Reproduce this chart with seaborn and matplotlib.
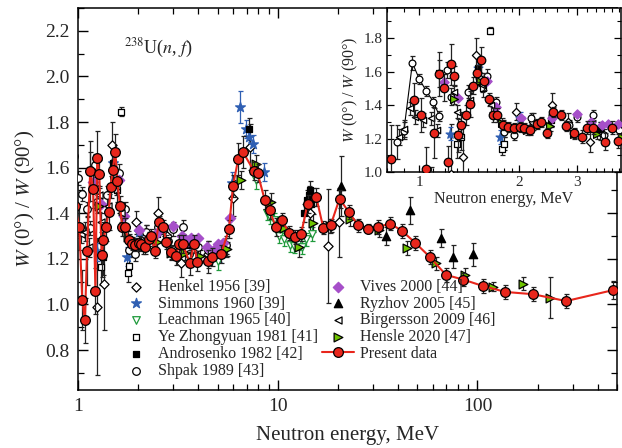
import numpy as np
import matplotlib
matplotlib.use("Agg")
import matplotlib.pyplot as plt
import seaborn as sns
from matplotlib.ticker import MultipleLocator, FixedLocator, FormatStrFormatter, LogLocator, NullFormatter

# ---------------- data ----------------
present_E = [0.822, 0.966, 1.016, 1.05, 1.083, 1.11, 1.151, 1.19, 1.223, 1.248, 1.277, 1.313, 1.341, 1.382,
             1.425, 1.457, 1.492, 1.537, 1.572, 1.621, 1.667, 1.714, 1.794, 1.858, 1.925, 2.016, 2.07, 2.16,
             2.26, 2.33, 2.42, 2.54, 2.67, 2.77, 2.92, 3.09, 3.21, 3.35, 3.63, 3.81, 3.96, 4.5, 4.71, 5.2,
             5.7, 5.97, 6.35, 6.7, 7.61, 7.93, 8.6, 9.1, 9.8, 10.5, 11.4, 12.2, 13.1, 14.1, 15.6, 16.9, 18.4,
             20.4, 22.7, 25.3, 28.4, 31.8, 36.6, 42.0, 48.9, 57.8, 69.5, 85.0, 106.6, 138.0, 190.0, 278.0, 478.0]
present_W = [1.08, 1.43, 1.34, 1.02, 0.93, 1.235, 1.585, 1.505, 1.058, 1.643, 1.573, 1.219, 1.281, 1.34,
             1.406, 1.515, 1.589, 1.669, 1.543, 1.434, 1.34, 1.34, 1.281, 1.267, 1.263, 1.27, 1.265, 1.25,
             1.287, 1.30, 1.235, 1.36, 1.34, 1.275, 1.231, 1.211, 1.265, 1.265, 1.181, 1.265, 1.185, 1.19, 1.208, 1.22,
             1.33, 1.52, 1.64, 1.668, 1.585, 1.576, 1.46, 1.413, 1.34, 1.372, 1.313, 1.296, 1.31, 1.44, 1.471, 1.337, 1.347,
             1.464, 1.405, 1.347, 1.332, 1.34, 1.355, 1.322, 1.27, 1.208, 1.13, 1.109, 1.081, 1.055, 1.045, 1.015, 1.063]
present_err = [0.2, 0.1, 0.1, 0.13, 0.1, 0.15, 0.13, 0.08, 0.1, 0.12, 0.06, 0.1, 0.08, 0.06,
               0.08, 0.05, 0.05, 0.08, 0.05, 0.04, 0.04, 0.04, 0.03, 0.03, 0.03, 0.03, 0.03, 0.03,
               0.03, 0.03, 0.03, 0.03, 0.03, 0.03, 0.03, 0.04, 0.04, 0.04, 0.05, 0.04, 0.04, 0.05, 0.04, 0.04,
               0.04, 0.05, 0.07, 0.07, 0.04, 0.04, 0.04, 0.04, 0.04, 0.03, 0.03, 0.03, 0.03, 0.04, 0.04, 0.03, 0.03,
               0.04, 0.03, 0.03, 0.02, 0.03, 0.03, 0.03, 0.03, 0.03, 0.03, 0.03, 0.03, 0.03, 0.03, 0.03, 0.04]

henkel_E = [1.25, 1.354, 1.485, 1.96, 2.2, 2.52, 2.8, 3.27, 3.5, 4.5, 5.97, 7.24, 14.5, 17.8, 20.2]
henkel_W = [0.99, 1.09, 1.70, 1.36, 1.30, 1.40, 1.30, 1.18, 1.24, 1.22, 1.468, 1.69, 1.40, 1.255, 1.36]
henkel_err = [0.3, 0.2, 0.1, 0.05, 0.05, 0.07, 0.05, 0.06, 0.05, 0.06, 0.08, 0.1, 0.1, 0.25, 0.15]

simmons_E = [1.24, 1.5, 1.75, 2.02, 3.51, 5.1, 5.93, 6.45, 6.96, 7.17, 7.5, 8.5]
simmons_W = [1.23, 1.62, 1.21, 1.32, 1.26, 1.225, 1.532, 1.868, 1.77, 1.733, 1.704, 1.58]
simmons_err = [0.04, 0.05, 0.04, 0.04, 0.04, 0.04, 0.05, 0.07, 0.04, 0.04, 0.04, 0.04]

leach_E = [5.0, 7.8, 8.8, 9.2, 9.6, 10.2, 10.8, 11.5, 12.0, 12.6, 13.2, 13.8, 14.8]
leach_W = [1.19, 1.545, 1.40, 1.383, 1.37, 1.30, 1.285, 1.26, 1.255, 1.27, 1.25, 1.285, 1.31]
leach_err = [0.04, 0.04, 0.03, 0.03, 0.03, 0.03, 0.03, 0.03, 0.03, 0.03, 0.03, 0.03, 0.03]

ye_E = [1.147, 1.30, 1.34, 1.56, 1.64, 1.78, 1.80]
ye_W = [1.59, 1.165, 1.21, 1.50, 1.845, 1.14, 1.17]
ye_err = [0.08, 0.08, 0.08, 0.05, 0.02, 0.04, 0.04]

andro_E = [1.5, 2.5, 3.5, 5.5, 7.2, 13.6, 14.0, 14.3, 14.5, 14.7, 15.0]
andro_W = [1.62, 1.31, 1.26, 1.25, 1.77, 1.40, 1.46, 1.48, 1.50, 1.44, 1.47]
andro_err = [0.05, 0.04, 0.04, 0.04, 0.05, 0.04, 0.04, 0.04, 0.04, 0.04, 0.04]

shpak_E = [0.857, 0.90, 0.955, 1.002, 1.05, 1.104, 1.151, 1.21, 1.25, 1.40, 1.52, 1.6, 1.71, 1.8, 1.93,
           2.18, 2.52, 2.83, 3.0, 3.35, 3.6, 4.0, 4.5, 5.5]
shpak_W = [1.18, 1.247, 1.652, 1.555, 1.486, 1.42, 1.336, 1.61, 1.45, 1.48, 1.56, 1.575, 1.42, 1.24, 1.22,
           1.32, 1.34, 1.28, 1.33, 1.34, 1.22, 1.25, 1.24, 1.26]
shpak_err = [0.1, 0.05, 0.04, 0.03, 0.03, 0.03, 0.03, 0.05, 0.05, 0.04, 0.04, 0.04, 0.03, 0.03, 0.03,
             0.03, 0.03, 0.03, 0.03, 0.03, 0.04, 0.04, 0.04, 0.04]

vives_E = [1.19, 1.31, 1.60, 1.70, 2.03, 2.51, 3.0, 3.3, 3.55, 3.7, 3.97, 4.45, 4.8, 5.04, 5.3, 5.75]
vives_W = [1.536, 1.442, 1.544, 1.39, 1.325, 1.32, 1.344, 1.30, 1.28, 1.29, 1.29, 1.252, 1.24, 1.267, 1.27, 1.378]

ryzhov_E = [20.8, 34.8, 46.0, 66.0, 75.4, 95.3]
ryzhov_W = [1.52, 1.30, 1.413, 1.29, 1.21, 1.22]
ryzhov_err = [0.13, 0.04, 0.06, 0.04, 0.05, 0.05]

birg_E = [0.87, 0.90, 0.94, 0.97, 1.03, 1.09, 1.13, 1.27, 1.30, 1.42, 1.55, 1.65]
birg_W = [1.21, 1.26, 1.38, 1.33, 1.31, 1.32, 1.25, 1.48, 1.36, 1.43, 1.52, 1.40]
birg_err = [0.05, 0.05, 0.04, 0.04, 0.04, 0.04, 0.04, 0.04, 0.04, 0.04, 0.04, 0.04]

hensle_E = [1.277, 1.526, 1.78, 2.11, 2.48, 2.93, 3.43, 4.08, 5.6, 6.57, 7.8, 9.3, 10.8, 12.8, 15.1,
            18.2, 23.0, 32.3, 44.4, 61.7, 86.8, 120.0, 168.8, 232.0]
hensle_W = [1.434, 1.543, 1.294, 1.25, 1.275, 1.225, 1.225, 1.211, 1.242, 1.547, 1.614, 1.449, 1.337, 1.25, 1.358,
            1.345, 1.376, 1.328, 1.249, 1.18, 1.13, 1.077, 1.092, 1.029]
hensle_err = [0.03, 0.03, 0.03, 0.03, 0.03, 0.03, 0.03, 0.03, 0.03, 0.04, 0.04, 0.04, 0.04, 0.04, 0.04,
              0.03, 0.03, 0.03, 0.03, 0.03, 0.03, 0.02, 0.03, 0.09]

# ---------------- style ----------------
sns.set_theme(style="ticks")
plt.rcParams["font.family"] = ["Liberation Serif", "DejaVu Serif"]
plt.rcParams["mathtext.fontset"] = "stix"
plt.rcParams["axes.linewidth"] = 1.1
plt.rcParams["xtick.direction"] = "in"
plt.rcParams["ytick.direction"] = "in"

fig = plt.figure(figsize=(6.22, 4.48), dpi=100)
ax = fig.add_axes([0.1254, 0.1295, 0.8666, 0.8525])
axin = fig.add_axes([0.622, 0.616, 0.376, 0.366])

datasets = [
    ("Henkel 1956 [39]", henkel_E, henkel_W, henkel_err, "D", "white", "black", "black", 22),
    ("Simmons 1960 [39]", simmons_E, simmons_W, simmons_err, "*", "#2f5fb3", "#2f5fb3", "#2f5fb3", 55),
    ("Leachman 1965 [40]", leach_E, leach_W, leach_err, "v", "white", "#1f9a3c", "#1f9a3c", 30),
    ("Ye Zhongyuan 1981 [41]", ye_E, ye_W, ye_err, "s", "white", "black", "black", 22),
    ("Androsenko 1982 [42]", andro_E, andro_W, andro_err, "s", "black", "black", "black", 22),
    ("Shpak 1989 [43]", shpak_E, shpak_W, shpak_err, "o", "white", "black", "black", 30),
    ("Vives 2000 [44]", vives_E, vives_W, None, "D", "#a64fc9", "#a64fc9", "#a64fc9", 28),
    ("Ryzhov 2005 [45]", ryzhov_E, ryzhov_W, ryzhov_err, "^", "black", "black", "black", 36),
    ("Birgersson 2009 [46]", birg_E, birg_W, birg_err, "<", "white", "black", "black", 26),
    ("Hensle 2020 [47]", hensle_E, hensle_W, hensle_err, ">", "#6fc400", "black", "black", 40),
]


def draw(a, show_label, inset=False):
    for lab, E, W, err, mk, fc, ec, errc, s in datasets:
        if err is not None:
            a.errorbar(E, W, yerr=err, fmt="none", ecolor=errc if errc != "black" else "#222222",
                       elinewidth=0.9, capsize=1.8, capthick=0.9, zorder=2)
        if inset and lab.startswith("Shpak"):
            sub = [i for i, e in enumerate(E) if e < 1.2]
            a.plot([E[i] for i in sub], [W[i] for i in sub], color="black", lw=0.8, zorder=2)
        sns.scatterplot(x=E, y=W, ax=a, marker=mk, s=s * (0.8 if inset else 1.0), color=fc,
                        edgecolor=ec, linewidth=0.9, label=lab if show_label else None,
                        zorder=3, legend=False)
    a.errorbar(present_E, present_W, yerr=present_err, fmt="none", ecolor="#222222",
               elinewidth=0.9, capsize=1.8, capthick=0.9, zorder=4)
    if not inset:
        sns.lineplot(x=present_E, y=present_W, ax=a, sort=False, color="#e8261c", lw=1.5,
                     marker="o", markersize=7, markerfacecolor="#e8261c", markeredgecolor="black",
                     markeredgewidth=0.9, label="Present data" if show_label else None,
                     zorder=5, legend=False)
    else:
        sns.scatterplot(x=present_E, y=present_W, ax=a, marker="o", s=38, color="#e8261c",
                        edgecolor="black", linewidth=0.9, zorder=5, legend=False)


draw(ax, True)
draw(axin, False, inset=True)

# main axes
ax.set_xscale("log")
ax.set_xlim(1, 500)
ax.set_ylim(0.625, 2.3)
ax.yaxis.set_major_locator(FixedLocator([0.8, 1.0, 1.2, 1.4, 1.6, 1.8, 2.0, 2.2]))
ax.yaxis.set_minor_locator(MultipleLocator(0.1))
ax.yaxis.set_major_formatter(FormatStrFormatter("%.1f"))
ax.xaxis.set_major_locator(FixedLocator([1, 10, 100]))
ax.set_xticklabels(["1", "10", "100"])
ax.xaxis.set_minor_locator(LogLocator(base=10, subs=np.arange(2, 10)))
ax.xaxis.set_minor_formatter(NullFormatter())
ax.tick_params(which="both", top=True, right=True, direction="in", color="black")
ax.tick_params(which="major", length=7, width=1, labelsize=14, pad=6)
ax.tick_params(which="minor", length=4, width=0.9)
ax.set_xlabel("Neutron energy, MeV", fontsize=15, labelpad=8)
ax.set_ylabel(r"$W$ (0°) / $W$ (90°)", fontsize=15, labelpad=6)
ax.text(0.085, 0.895, r"$^{238}$U($n$, $f$)", transform=ax.transAxes, fontsize=13, va="center")
for sp in ax.spines.values():
    sp.set_color("black")

# legend
hs, ls = ax.get_legend_handles_labels()
order = [ls.index(d[0]) for d in datasets] + [ls.index("Present data")]
ax.legend([hs[i] for i in order], [ls[i] for i in order], ncol=2, frameon=False,
          loc="upper left", bbox_to_anchor=(0.066, 0.308), fontsize=11.5,
          handlelength=2.0, handletextpad=0.4, columnspacing=0.2, labelspacing=0.05,
          borderaxespad=0.0)

# inset axes
axin.set_facecolor("white")
axin.set_zorder(10)
axin.set_xscale("log")
axin.set_xlim(0.8, 4.05)
axin.set_ylim(1.0, 1.98)
axin.yaxis.set_major_locator(FixedLocator([1.0, 1.2, 1.4, 1.6, 1.8]))
axin.yaxis.set_minor_locator(MultipleLocator(0.1))
axin.yaxis.set_major_formatter(FormatStrFormatter("%.1f"))
axin.xaxis.set_major_locator(FixedLocator([1, 2, 3]))
axin.set_xticklabels(["1", "2", "3"])
axin.xaxis.set_minor_locator(FixedLocator([0.8, 0.9, 1.1, 1.2, 1.3, 1.4, 1.5, 1.6, 1.7, 1.8, 1.9,
                                           2.2, 2.4, 2.6, 2.8, 3.2, 3.4, 3.6, 3.8, 4.0]))
axin.xaxis.set_minor_formatter(NullFormatter())
axin.tick_params(which="both", top=True, right=True, direction="in", color="black")
axin.tick_params(which="major", length=5, width=0.9, labelsize=11, pad=3)
axin.tick_params(which="minor", length=3, width=0.8)
axin.set_xlabel("Neutron energy, MeV", fontsize=11.5, labelpad=1)
axin.set_ylabel(r"$W$ (0°) / $W$ (90°)", fontsize=11.5, labelpad=3)
for sp in axin.spines.values():
    sp.set_color("black")

fig.savefig("out.png", dpi=100)
